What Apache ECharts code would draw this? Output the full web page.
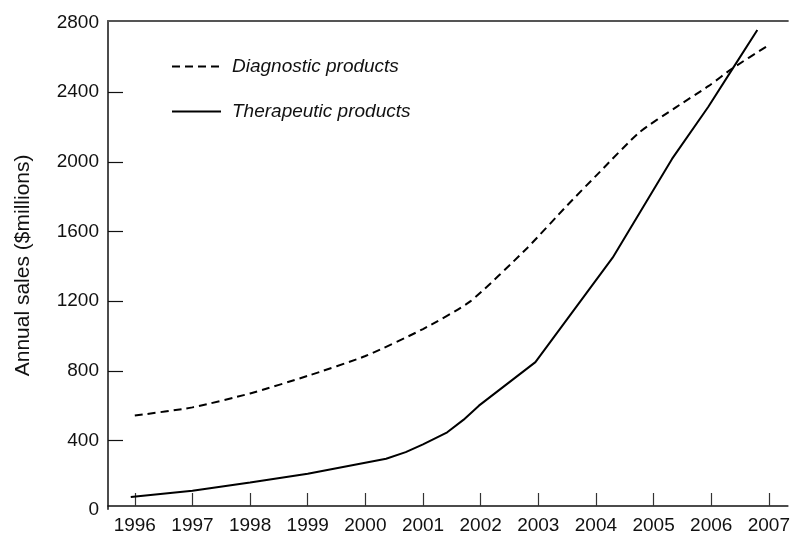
<!DOCTYPE html>
<html>
<head>
<meta charset="utf-8">
<script src="https://cdn.jsdelivr.net/npm/echarts@6/dist/echarts.min.js"></script>
<style>html,body{margin:0;padding:0;background:#fff;}#c{width:793px;height:535px;}</style>
</head>
<body>
<div id="c"></div>
<script>
// Data
var yearTicks = [1996, 1997, 1998, 1999, 2000, 2001, 2002, 2003, 2004, 2005, 2006, 2007];
var valueTicks = [400, 800, 1200, 1600, 2000, 2400];
var valueLabels = [0, 400, 800, 1200, 1600, 2000, 2400, 2800];

var diagYears  = [1996, 1997, 1998, 1999, 2000, 2001, 2001.82, 2002.8, 2003.5, 2004.06, 2004.75, 2005.38, 2005.95, 2006.38, 2006.96];
var diagValues = [543,  590,  670,  771,  885,  1040, 1199,    1503,   1750,   1940,    2169,    2312,    2435,    2540,    2663];

var therYears  = [1995.93, 1997, 1998, 1999, 2000.36, 2000.7, 2001, 2001.42, 2001.7, 2001.97, 2002.95, 2004.29, 2005.32, 2005.95, 2006.38, 2006.8];
var therValues = [75,      111,  158,  209,  295,     333,    378,  447,     518,     600,     850,     1450,    2017,    2317,    2540,    2758];

var seriesNames = ['Diagnostic products', 'Therapeutic products'];

function pairs(xs, ys) { return xs.map(function (x, i) { return [x, ys[i]]; }); }

var chart = echarts.init(document.getElementById('c'), null, {renderer: 'canvas'});
var font = '"Liberation Sans", Arial, Helvetica, sans-serif';
var xMin = 1995.535, xMax = 2007.33;
chart.setOption({
  animation: false,
  backgroundColor: '#fff',
  grid: [
    {left: 108, top: 20.7, right: 0, bottom: 21.6, containLabel: false},
    {left: 108, top: 20.7, right: 0, bottom: 25.7, containLabel: false}
  ],
  legend: {
    orient: 'vertical', left: 171, top: 57, padding: 0,
    itemWidth: 49, itemHeight: 20, itemGap: 26,
    itemStyle: {opacity: 0},
    textStyle: {fontFamily: font, fontSize: 19, fontStyle: 'italic', color: '#111', padding: [0, 0, 0, 6]},
    data: seriesNames
  },
  xAxis: [{
    gridIndex: 0, type: 'value', min: xMin, max: xMax, offset: -4.1,
    axisLine: {onZero: false, lineStyle: {color: '#111', width: 1.5}},
    axisTick: {inside: true, length: 13, customValues: yearTicks, lineStyle: {color: '#333', width: 1.2}},
    axisLabel: {customValues: yearTicks, margin: 10, fontFamily: font, fontSize: 19, color: '#111',
      formatter: function (v) { return String(Math.round(v)); }},
    splitLine: {show: false}
  }, {
    gridIndex: 0, type: 'value', position: 'top', min: xMin, max: xMax,
    axisLine: {show: true, onZero: false, lineStyle: {color: '#555', width: 2}},
    axisTick: {show: false}, axisLabel: {show: false}, splitLine: {show: false}
  }, {
    gridIndex: 1, type: 'value', min: xMin, max: xMax, show: false
  }],
  yAxis: [{
    gridIndex: 0, type: 'value', min: 0, max: 2811,
    name: 'Annual sales ($millions)', nameLocation: 'middle', nameGap: 74, nameRotate: 90,
    nameTextStyle: {fontFamily: font, fontSize: 21, color: '#111'},
    axisLine: {show: false, onZero: false},
    axisTick: {show: true, inside: true, length: 15, customValues: valueTicks, lineStyle: {color: '#111', width: 1.2}},
    axisLabel: {customValues: valueLabels, margin: 9, fontFamily: font, fontSize: 19, color: '#111',
      formatter: function (v) { return String(Math.round(v)); }},
    splitLine: {show: false}
  }, {
    gridIndex: 1, type: 'value', min: 0, max: 100,
    axisLine: {show: true, onZero: false, lineStyle: {color: '#111', width: 1.5}},
    axisTick: {show: false}, axisLabel: {show: false}, splitLine: {show: false}
  }],
  series: [{
    name: seriesNames[0], type: 'line', showSymbol: false, symbol: 'none',
    xAxisIndex: 0, yAxisIndex: 0,
    data: pairs(diagYears, diagValues), smooth: 0.2,
    lineStyle: {color: '#000', width: 2, type: [8, 5]}, itemStyle: {color: '#000'}
  }, {
    name: seriesNames[1], type: 'line', showSymbol: false, symbol: 'none',
    xAxisIndex: 0, yAxisIndex: 0,
    data: pairs(therYears, therValues), smooth: false,
    lineStyle: {color: '#000', width: 2}, itemStyle: {color: '#000'}
  }]
});
</script>
</body>
</html>
